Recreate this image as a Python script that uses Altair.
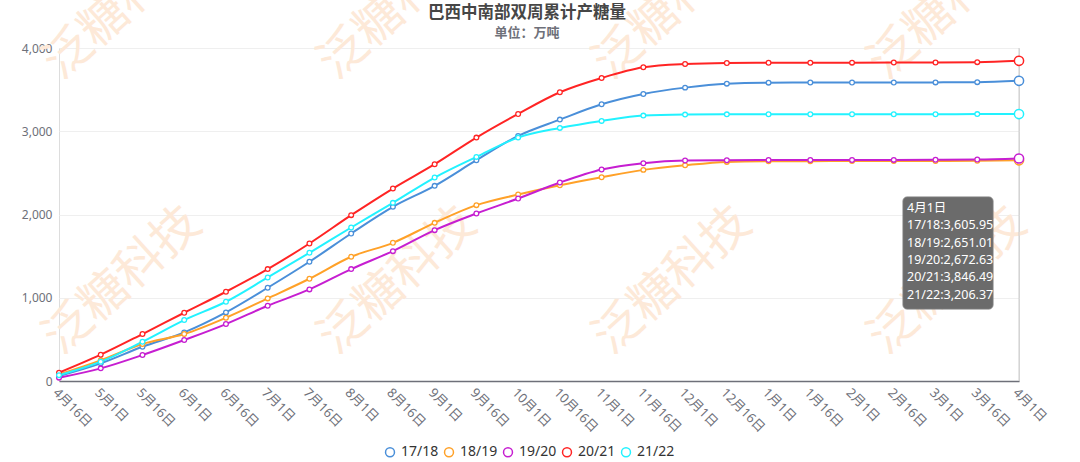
import altair as alt
import pandas as pd

# ---------------- data ----------------
categories = ["4月16日", "5月1日", "5月16日", "6月1日", "6月16日", "7月1日", "7月16日",
              "8月1日", "8月16日", "9月1日", "9月16日", "10月1日", "10月16日", "11月1日",
              "11月16日", "12月1日", "12月16日", "1月1日", "1月16日", "2月1日", "2月16日",
              "3月1日", "3月16日", "4月1日"]

series_names = ["17/18", "18/19", "19/20", "20/21", "21/22"]
series_colors = ["#4a8fd9", "#ffa128", "#c61ed1", "#ff2424", "#22f2ff"]

v_1718 = [60, 212, 412, 584, 824, 1120, 1432, 1772, 2092, 2344, 2652, 2944, 3140, 3324,
          3448, 3524, 3572, 3584, 3585, 3586, 3586, 3587, 3590, 3605.95]
v_1819 = [80, 248, 444, 564, 760, 992, 1228, 1492, 1660, 1900, 2112, 2240, 2352, 2448,
          2536, 2592, 2632, 2640, 2641, 2642, 2642, 2643, 2645, 2651.01]
v_1920 = [40, 152, 312, 492, 684, 904, 1100, 1344, 1560, 1812, 2012, 2192, 2384, 2540,
          2616, 2648, 2652, 2654, 2655, 2655, 2656, 2657, 2660, 2672.63]
v_2021 = [100, 316, 564, 820, 1072, 1344, 1652, 1992, 2312, 2604, 2924, 3208, 3468, 3640,
          3768, 3808, 3820, 3822, 3823, 3824, 3825, 3826, 3830, 3846.49]
v_2122 = [70, 232, 472, 732, 952, 1244, 1540, 1844, 2140, 2444, 2692, 2924, 3040, 3124,
          3188, 3200, 3203, 3204, 3204, 3205, 3205, 3205, 3206, 3206.37]

title_text = "巴西中南部双周累计产糖量"
subtitle_text = "单位：万吨"
watermark_text = "泛糖科技"

all_values = [v_1718, v_1819, v_1920, v_2021, v_2122]

rows = []
for name, vals in zip(series_names, all_values):
    for c, v in zip(categories, vals):
        rows.append({"date": c, "series": name, "value": v})
df = pd.DataFrame(rows)

last_cat = categories[-1]
tip_lines = [last_cat] + [f"{n}:{vals[-1]:,.2f}" for n, vals in zip(series_names, all_values)]
tip_df = pd.DataFrame([{"tip": "\n".join(tip_lines)}])
title_df = pd.DataFrame([{"t": title_text, "s": subtitle_text}])

FONT = "Noto Sans, Noto Sans CJK SC"
AXIS_GRAY = "#6E7079"
PAD_L, PAD_T = 59, 48

# ---------------- encodings ----------------
x_enc = alt.X(
    "date:O",
    sort=categories,
    scale=alt.Scale(type="point", padding=0),
    axis=alt.Axis(
        title=None, labelAngle=45, labelAlign="left", labelBaseline="top",
        labelPadding=5, ticks=False, grid=False, labelOverlap=False,
        domainColor=AXIS_GRAY, domainWidth=1.5, labelColor=AXIS_GRAY,
        labelFontSize=13, labelFont=FONT,
    ),
)
y_enc = alt.Y(
    "value:Q",
    scale=alt.Scale(domain=[0, 4000], nice=False),
    axis=alt.Axis(
        title=None, values=[0, 1000, 2000, 3000, 4000], format=",.0f",
        domain=False, ticks=False, labelPadding=7, gridColor="#EFEFEF",
        labelColor=AXIS_GRAY, labelFontSize=12, labelFont=FONT,
    ),
)
color_scale = alt.Scale(domain=series_names, range=series_colors)
legend = alt.Legend(
    orient="none", legendX=324, legendY=397, direction="horizontal",
    title=None, symbolType="circle", symbolSize=80, symbolStrokeWidth=1.5,
    symbolFillColor="white",
    labelFontSize=14, labelColor="#333333", labelFont=FONT,
    columnPadding=2, labelOffset=4, padding=0,
)
color_enc = alt.Color("series:N", scale=color_scale, legend=legend)

# ---------------- layers ----------------
layers = []

# watermarks
wm_x = [123, 398, 673, 948]
wm_y = [6, 281]
wm_df = pd.DataFrame([{"w": watermark_text}])
for yy in wm_y:
    for xx in wm_x:
        layers.append(
            alt.Chart(wm_df).mark_text(
                angle=318, fontSize=48, color="#fde9d8", font=FONT,
                align="center", baseline="middle",
            ).encode(x=alt.value(xx - PAD_L), y=alt.value(yy - PAD_T), text="w:N")
        )

# title & subtitle
title_mark = alt.Chart(title_df).mark_text(
    fontSize=16.5, fontWeight="bold", color="#464646", font=FONT,
    align="center", baseline="middle",
).encode(x=alt.value(527 - PAD_L), y=alt.value(13 - PAD_T), text="t:N")
subtitle_mark = alt.Chart(title_df).mark_text(
    fontSize=13, fontWeight="bold", color="#6E7079", font=FONT,
    align="center", baseline="middle",
).encode(x=alt.value(527 - PAD_L), y=alt.value(32.5 - PAD_T), text="s:N")

# axis pointer line at last category
rule = alt.Chart(pd.DataFrame([{"date": last_cat}])).mark_rule(
    color="#cccccc", strokeWidth=1
).encode(x=alt.X("date:O", sort=categories))

base = alt.Chart(df)

lines = base.mark_line(interpolate="monotone", strokeWidth=2).encode(
    x=x_enc, y=y_enc, color=color_enc, order=alt.Order("series:N"),
)

points = base.mark_point(
    shape="circle", filled=False, fill="white", size=22, strokeWidth=1.3, opacity=1
).encode(x=x_enc, y=y_enc, color=color_enc)

big_points = base.transform_filter(
    alt.datum.date == last_cat
).mark_point(
    shape="circle", filled=False, fill="white", size=85, strokeWidth=1.5, opacity=1
).encode(x=x_enc, y=y_enc, color=color_enc)

tip_box = alt.Chart(tip_df).mark_rect(
    fill="#6b6b6b", cornerRadius=4, stroke="#7a7a7a", strokeWidth=1
).encode(
    x=alt.value(903 - PAD_L), x2=alt.value(993 - PAD_L),
    y=alt.value(197 - PAD_T), y2=alt.value(309 - PAD_T),
)
tip_text = alt.Chart(tip_df).mark_text(
    align="left", baseline="top", lineBreak="\n", lineHeight=17.3,
    fontSize=12.5, color="white", font=FONT,
).encode(x=alt.value(907 - PAD_L), y=alt.value(202 - PAD_T), text="tip:N")

chart = alt.layer(
    *layers, title_mark, subtitle_mark, rule, lines, points, big_points, tip_box, tip_text
).properties(
    width=960, height=333,
    padding={"left": PAD_L, "top": PAD_T, "right": 61, "bottom": 81},
    autosize=alt.AutoSizeParams(type="none"),
).configure_view(strokeWidth=0).configure(background="white")

chart.save("out.html", embed_options={"renderer": "svg", "actions": False})
